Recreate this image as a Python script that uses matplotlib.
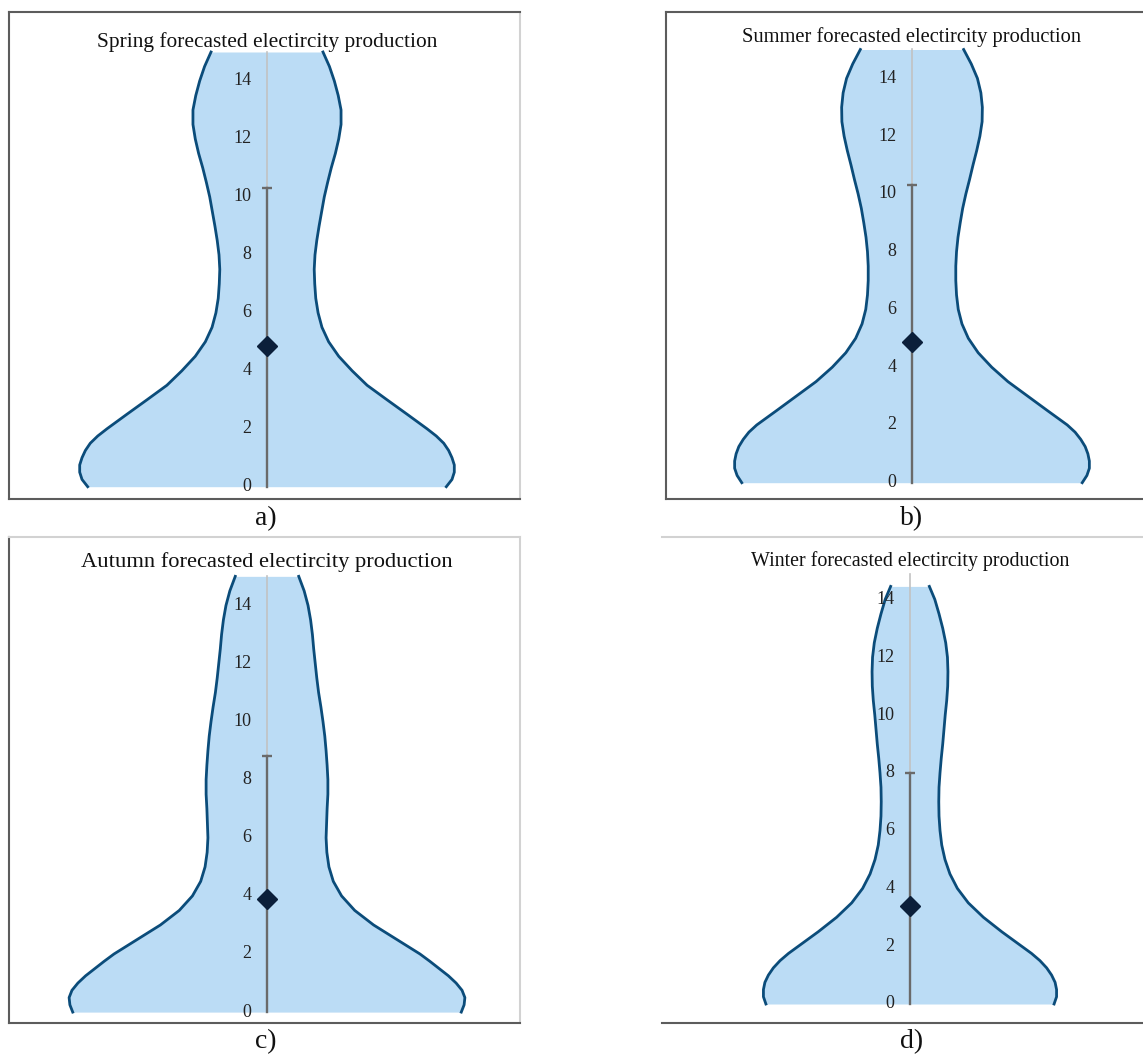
import numpy as np
import matplotlib.pyplot as plt

plt.rcParams['font.family'] = ['Liberation Serif', 'DejaVu Serif']

W, H = 1143, 1057

titles = ['Spring forecasted electircity production',
          'Summer forecasted electircity production',
          'Autumn forecasted electircity production',
          'Winter forecasted electircity production']
letters = ['a)', 'b)', 'c)', 'd)']
ticks = [0, 2, 4, 6, 8, 10, 12, 14]

# violin outline: height levels and half-widths (fraction of left half of the frame)
y_lo = [0, 0.25, 0.5, 0.75, 1, 1.25, 1.5, 1.75, 2, 2.5, 3, 3.5, 4, 4.5, 5, 5.5, 6, 6.5,
        7, 7.5, 8, 8.5, 9, 9.5, 10, 10.5, 11, 11.5, 12, 12.5, 13, 13.5, 14, 14.5]

y_a = y_lo + [15]
w_a = [0.695, 0.717, 0.726, 0.726, 0.717, 0.704, 0.685, 0.656, 0.62, 0.543, 0.465, 0.388,
       0.33, 0.278, 0.239, 0.213, 0.198, 0.189, 0.185, 0.183, 0.186, 0.193, 0.202, 0.212,
       0.222, 0.235, 0.249, 0.265, 0.278, 0.287, 0.287, 0.276, 0.261, 0.242, 0.217]

y_b = y_lo + [15]
w_b = [0.692, 0.711, 0.721, 0.721, 0.715, 0.704, 0.686, 0.663, 0.631, 0.55, 0.47, 0.39,
       0.324, 0.269, 0.229, 0.203, 0.188, 0.181, 0.178, 0.178, 0.181, 0.187, 0.196, 0.206,
       0.219, 0.234, 0.248, 0.263, 0.276, 0.285, 0.286, 0.28, 0.266, 0.241, 0.21]

y_c = y_lo + [15]
w_c = [0.753, 0.764, 0.767, 0.756, 0.733, 0.703, 0.667, 0.631, 0.593, 0.503, 0.413, 0.34,
       0.289, 0.257, 0.24, 0.232, 0.229, 0.231, 0.233, 0.236, 0.236, 0.233, 0.229, 0.224,
       0.217, 0.209, 0.20, 0.193, 0.187, 0.181, 0.176, 0.169, 0.159, 0.144, 0.123]

y_d = y_lo[:-1] + [14.45]
w_d = [0.581, 0.591, 0.591, 0.585, 0.571, 0.551, 0.524, 0.49, 0.45, 0.37, 0.296, 0.235,
       0.191, 0.161, 0.141, 0.128, 0.121, 0.117, 0.116, 0.117, 0.121, 0.126, 0.132, 0.137,
       0.142, 0.148, 0.152, 0.153, 0.151, 0.144, 0.132, 0.117, 0.10, 0.078]

whisker_top = [10.3, 10.3, 8.8, 8.0]
medians = [4.87, 4.87, 3.88, 3.38]
axis_top = [15, 15, 15, 14.87]

levels = [y_a, y_b, y_c, y_d]
widths = [w_a, w_b, w_c, w_d]

# frames in pixels: left, top, right, bottom, centre x, pixel of y=0, px per unit
frames = [(9, 12, 520, 499, 267, 486.7, 28.98),
          (666, 12, 1143, 499, 912, 482.7, 28.88),
          (9, 537, 520, 1023, 267, 1012.1, 29.05),
          (662, 537, 1143, 1023, 910, 1004.0, 28.9)]
title_y = [42, 37, 562, 561]
title_size = [15.4, 14.8, 16.2, 14.4]
letter_pos = [(266, 519), (912, 519), (266, 1042), (912, 1042)]

fill_c = '#bbdcf5'
edge_c = '#0b4c7a'
dark = '#5c5c5c'
light = '#d2d2d2'

fig = plt.figure(figsize=(W / 100, H / 100), dpi=100)

for i in range(4):
    l, t, r, b, cx, y0, ppu = frames[i]
    ax = fig.add_axes([l / W, 1 - b / H, (r - l) / W, (b - t) / H])
    half = cx - l
    ax.set_xlim(-1, (r - cx) / half)
    ax.set_ylim(-(b - y0) / ppu, (y0 - t) / ppu)
    ax.set_xticks([])
    ax.set_yticks([])

    y = np.array(levels[i])
    w = np.array(widths[i])
    ax.fill_betweenx(y, -w, w, color=fill_c, lw=0, zorder=1)
    ax.plot(-w, y, color=edge_c, lw=2.0, zorder=2, solid_joinstyle='round')
    ax.plot(w, y, color=edge_c, lw=2.0, zorder=2, solid_joinstyle='round')

    ax.plot([0, 0], [0, axis_top[i]], color='#c2c2c2', lw=1.2, zorder=3)
    ax.plot([0, 0], [0, whisker_top[i]], color='#6a6a6a', lw=1.7, zorder=4)
    ax.plot([0], [whisker_top[i]], marker='_', ms=7, mew=1.7, color='#6a6a6a', zorder=4)
    ax.plot([0], [medians[i]], marker='D', ms=10, color='#0b1f3a', zorder=5)

    for tk in ticks:
        ax.annotate(str(tk), xy=(0, tk), xytext=(-11, 0), textcoords='offset points',
                    ha='right', va='center', fontsize=13, color='#222222', zorder=6)

    fig.text(cx / W, 1 - title_y[i] / H, titles[i], ha='center', va='center',
             fontsize=title_size[i], color='#111111')

    for s in ax.spines.values():
        s.set_linewidth(1.5)
    if i == 0:
        ax.spines['left'].set_color(dark)
        ax.spines['top'].set_color(dark)
        ax.spines['bottom'].set_color(dark)
        ax.spines['right'].set_color(light)
    elif i == 1:
        ax.spines['left'].set_color(dark)
        ax.spines['top'].set_color(dark)
        ax.spines['bottom'].set_color(dark)
        ax.spines['right'].set_visible(False)
    elif i == 2:
        ax.spines['left'].set_color(dark)
        ax.spines['top'].set_color(light)
        ax.spines['bottom'].set_color(dark)
        ax.spines['right'].set_color(light)
    else:
        ax.spines['left'].set_visible(False)
        ax.spines['right'].set_visible(False)
        ax.spines['top'].set_color(light)
        ax.spines['bottom'].set_color(dark)

    lx, ly = letter_pos[i]
    fig.text(lx / W, 1 - ly / H, letters[i], ha='center', va='center', fontsize=20, color='#111111')

fig.savefig('out.png', dpi=100)
